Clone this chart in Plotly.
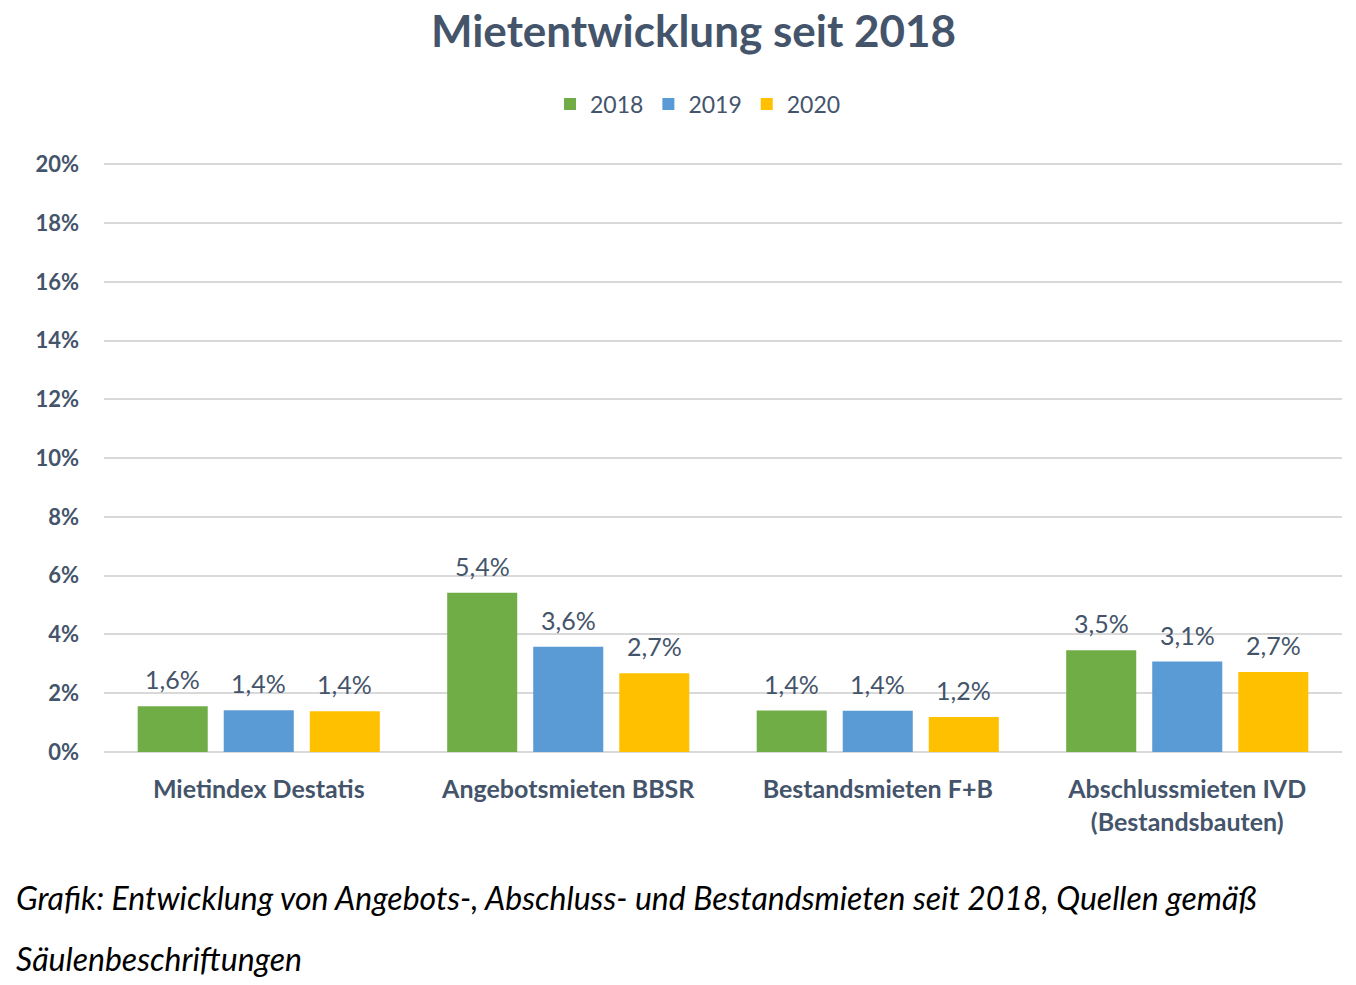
import plotly.graph_objects as go

categories = ["Mietindex Destatis", "Angebotsmieten BBSR", "Bestandsmieten F+B",
              "Abschlussmieten IVD<br>(Bestandsbauten)"]
series_names = ["2018", "2019", "2020"]
values_2018 = [1.56, 5.42, 1.41, 3.46]
values_2019 = [1.42, 3.58, 1.40, 3.08]
values_2020 = [1.39, 2.68, 1.19, 2.72]
colors = ["#70AD47", "#5B9BD5", "#FFC000"]
y_ticks = list(range(0, 21, 2))
y_ticklabels = [f"{v}%" for v in y_ticks]

TXT = "#44546A"
FONT = "Lato"
W, H = 1356, 985
ML, MR, MT, MB = 96, 22, 155, 241
BARGAP, GROUPGAP = 0.166, 0.186

plot_w = W - ML - MR
plot_h = H - MT - MB
slot_px = plot_w / len(categories) * (1 - BARGAP) / len(series_names)


def px_x(px):
    return (px - ML) / plot_w


def px_y(py):
    return (H - MB - py) / plot_h


fig = go.Figure()
annotations = []
all_vals = [values_2018, values_2019, values_2020]
for i, (name, vals, col) in enumerate(zip(series_names, all_vals, colors)):
    fig.add_trace(go.Bar(
        x=categories, y=vals, name=name,
        marker=dict(color=col, line=dict(width=0)),
        hoverinfo="x+y",
    ))
    for c, v in zip(categories, vals):
        annotations.append(dict(
            x=c, y=v, xref="x", yref="y",
            text=f"{v:.1f}%".replace(".", ","),
            showarrow=False, yanchor="middle",
            xshift=(i - 1) * slot_px, yshift=27,
            font=dict(family=FONT, size=25, color=TXT),
        ))

annotations += [
    dict(text="<i>Grafik: Entwicklung von Angebots-, Abschluss- und Bestandsmieten seit 2018, Quellen gemäß</i>",
         xref="paper", yref="paper", x=px_x(6), y=px_y(890),
         xanchor="left", yanchor="middle", showarrow=False,
         font=dict(family=FONT, size=32, color="#000000")),
    dict(text="<i>Säulenbeschriftungen</i>",
         xref="paper", yref="paper", x=px_x(6), y=px_y(950),
         xanchor="left", yanchor="middle", showarrow=False,
         font=dict(family=FONT, size=32, color="#000000")),
]

fig.update_layout(
    width=W, height=H,
    paper_bgcolor="white", plot_bgcolor="white",
    barmode="group", bargap=BARGAP, bargroupgap=GROUPGAP,
    margin=dict(l=ML, r=MR, t=MT, b=MB),
    title=dict(text="<b>Mietentwicklung seit 2018</b>", x=685.5 / W, xanchor="center",
               xref="container",
               y=1 - 24 / H, yanchor="middle",
               font=dict(family=FONT, size=44, color=TXT)),
    legend=dict(orientation="h", x=690 / W, xanchor="center", xref="container",
                y=1 - 96 / H, yref="container", yanchor="middle",
                font=dict(family=FONT, size=23, color=TXT),
                itemwidth=30, tracegroupgap=0),
    font=dict(family=FONT, color=TXT),
    xaxis=dict(showgrid=False, showline=False, ticks="",
               tickfont=dict(family=FONT, size=25, color=TXT, weight="bold"),
               ticklabelstandoff=20),
    yaxis=dict(range=[0, 20.05], tickmode="array", tickvals=y_ticks, ticktext=y_ticklabels,
               showgrid=True, gridcolor="#D9D9D9", gridwidth=1.5,
               zeroline=True, zerolinecolor="#D9D9D9", zerolinewidth=1.5,
               showline=False, ticks="",
               tickfont=dict(family=FONT, size=22, color=TXT, weight="bold"),
               ticklabelstandoff=24),
    annotations=annotations,
)

fig.write_html("out.html")
